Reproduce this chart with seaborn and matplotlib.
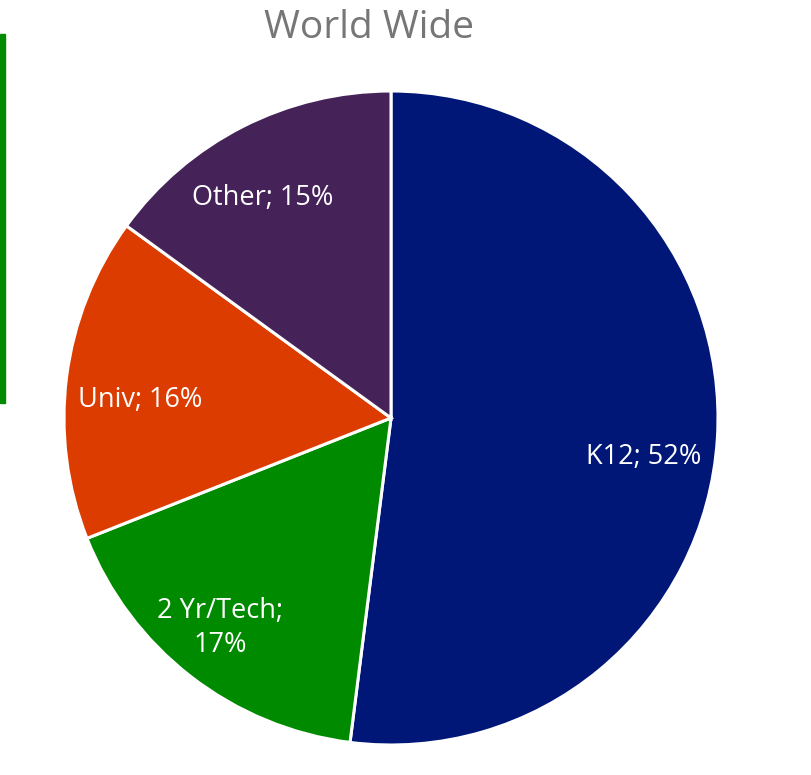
import matplotlib.pyplot as plt
import matplotlib.patches as mpatches
import seaborn as sns

# Share of users by segment, world wide
segments = ["K12", "2 Yr/Tech", "Univ", "Other"]
shares = [52, 17, 16, 15]
label_text = ["K12; 52%", "2 Yr/Tech;\n17%", "Univ; 16%", "Other; 15%"]
colors = ["#001777", "#008A00", "#DC3C00", "#452258"]

sns.set_theme(style="white")
plt.rcParams['font.family'] = ['Open Sans', 'DejaVu Sans']

fig = plt.figure(figsize=(8.12, 7.75), dpi=100)
ax = fig.add_axes([64 / 812, 30 / 775, 654 / 812, 654 / 775])

wedges, texts = ax.pie(
    shares,
    labels=label_text,
    colors=sns.color_palette(colors),
    startangle=90,
    counterclock=False,
    labeldistance=0.78,
    radius=1,
    wedgeprops=dict(edgecolor="white", linewidth=2.2),
    textprops=dict(color="white", fontsize=19.5, ha="center", va="center",
                   multialignment="center"),
)

# label placement (Excel style, tweaked by eye)
label_pos = [(0.774, -0.119), (-0.523, -0.642), (-0.768, 0.055), (-0.391, 0.673)]
for t, pos in zip(texts, label_pos):
    t.set_horizontalalignment("center")
    t.set_position(pos)
    t.set_linespacing(1.3)

ax.set_xlim(-1, 1)
ax.set_ylim(-1, 1)
ax.set_aspect("equal")
ax.axis("off")

fig.text(369 / 812, 1 - 28 / 775, "World Wide", color="#767676",
         fontsize=28, ha="center", va="center")

# green accent bar on the left edge
fig.patches.append(mpatches.Rectangle((0, 1 - 403 / 775), 5 / 812, 369 / 775,
                                      transform=fig.transFigure, color="#008A00"))

fig.savefig("out.png", dpi=100)
